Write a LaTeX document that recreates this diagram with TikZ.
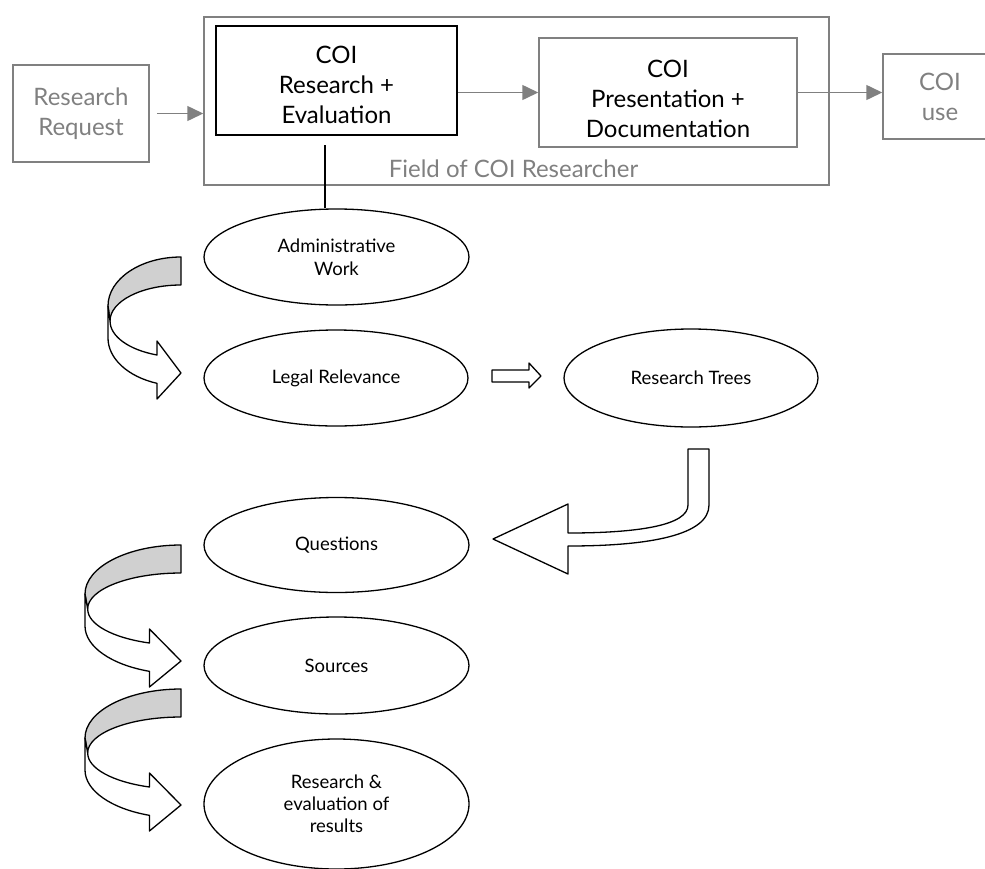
\documentclass[tikz,border=0pt]{standalone}
\usepackage{fontspec}
\setmainfont{Lato}
\usetikzlibrary{shapes.geometric,arrows.meta}
\definecolor{boxgray}{HTML}{808080}
\definecolor{bandgray}{HTML}{D0D0D0}
\newcommand\myCurvedBand{%
  \filldraw[band, fill=bandgray] (0,0) arc[start angle=90,end angle=180,x radius=73,y radius=49]
    -- (-71,-64) arc[start angle=180,end angle=90,x radius=71,y radius=36] -- cycle;
  \filldraw[band, fill=white] (-73,-49) -- (-73,-81)
    arc[start angle=180,end angle=250.8,x radius=73,y radius=48]
    -- (-24,-142) -- (0,-116) -- (-24,-84) -- (-24,-98)
    arc[start angle=250.2,end angle=180,x radius=71,y radius=36] -- cycle;}
\begin{document}
\begin{tikzpicture}[x=1pt,y=1pt,
  gbox/.style={draw=boxgray, line width=1.5pt, rectangle, inner sep=0pt, align=center},
  bigtext/.style={font=\fontsize{24}{30}\selectfont, align=center, inner sep=0pt},
  oval/.style={draw, ellipse, line width=1.3pt, inner sep=0pt, align=center, font=\fontsize{18.5}{23}\selectfont},
  garrow/.style={draw=boxgray, line width=1.5pt, -{Triangle[length=16pt,width=15pt]}},
  band/.style={draw, line width=1.3pt, line join=round}]
\useasboundingbox (0,0) rectangle (985,-868);
\clip (0,0) rectangle (985,-868);

% top row
\node[gbox, text=boxgray, bigtext, minimum width=136pt, minimum height=97pt] (req) at (81,-113.5) {Research\\Request};
\node[gbox, minimum width=625pt, minimum height=168pt] (field) at (516.5,-101) {};
\node[text=boxgray, bigtext, anchor=base] (fieldlbl) at (513.5,-177) {Field of COI Researcher};
\node[draw, line width=2pt, rectangle, minimum width=241pt, minimum height=109pt, inner sep=0pt] (coire) at (336.5,-80.5) {};
\node[bigtext] (coiretxt) at ([yshift=-4pt]coire.center) {COI\\Research +\\Evaluation};
\node[gbox, minimum width=258pt, minimum height=109pt] (coipd) at (668,-92.5) {};
\node[bigtext] (coipdtxt) at ([yshift=-6pt]coipd.center) {COI\\Presentation +\\Documentation};
\node[gbox, text=boxgray, bigtext, minimum width=114pt, minimum height=85pt] (use) at (940,-96.5) {COI\\use};

\draw[garrow] ([xshift=7pt]req.east) -- (req.east -| field.west);
\draw[garrow] (coipd.west -| coire.east) -- (coipd.west);
\draw[garrow] (coipd.east) -- (coipd.east -| use.west);

% ellipses
\node[oval, minimum width=265pt, minimum height=96pt] (admin) at (336.5,-257) {Administrative\\Work};
\node[oval, minimum width=264pt, minimum height=96pt] (legal) at (336,-378) {Legal Relevance};
\node[oval, minimum width=254pt, minimum height=98pt] (trees) at (691,-378) {Research Trees};
\node[oval, minimum width=265pt, minimum height=95pt] (quest) at (336.5,-545) {Questions};
\node[oval, minimum width=265pt, minimum height=97pt] (sources) at (336.5,-665.5) {Sources};
\node[oval, minimum width=265pt, minimum height=130pt, font=\fontsize{18.5}{22}\selectfont] (reseval) at (336.5,-804) {Research \&\\evaluation of\\results};

\coordinate (lt) at (325,-145);
\draw[line width=1.5pt] (lt) -- (lt |- admin.north);

% block arrows
\filldraw[band, fill=white] (492,-370) -- (529,-370) -- (529,-363) -- (541,-376) -- (529,-388) -- (529,-382) -- (492,-382) -- cycle;
\filldraw[band, fill=white] (709,-449) -- (709,-505) .. controls (709,-535) and (650,-546) .. (568,-546)
  -- (568,-574) -- (493,-539) -- (568,-504) -- (568,-533)
  .. controls (640,-533) and (688,-525) .. (688,-505) -- (688,-449) -- cycle;

% curved arrows
\begin{scope}[shift={(181,-257)}]
  \myCurvedBand
\end{scope}
\begin{scope}[shift={(181,-545)},xscale=1.315]
  \myCurvedBand
\end{scope}
\begin{scope}[shift={(181,-689)},xscale=1.315]
  \myCurvedBand
\end{scope}
\end{tikzpicture}
\end{document}
